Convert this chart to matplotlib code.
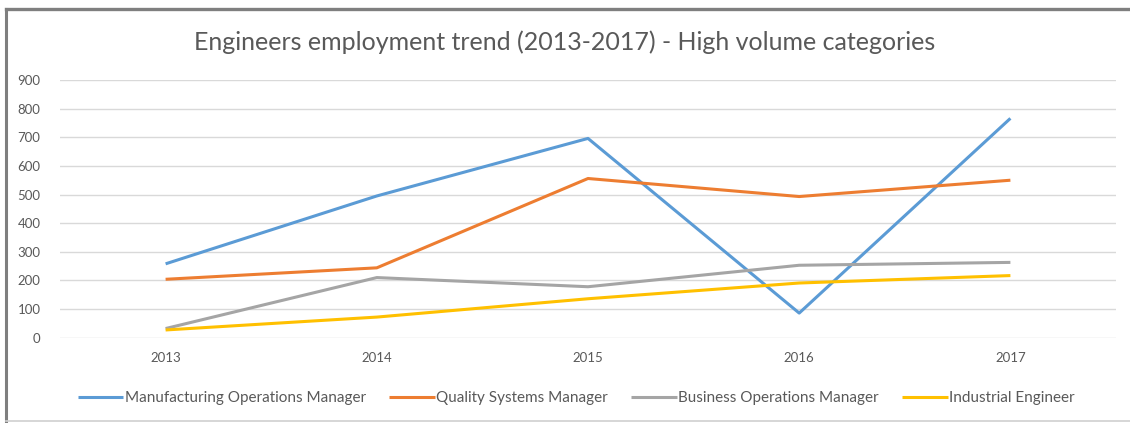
import matplotlib.pyplot as plt
from matplotlib.lines import Line2D

years = ["2013", "2014", "2015", "2016", "2017"]
series_names = [
    "Manufacturing Operations Manager",
    "Quality Systems Manager",
    "Business Operations Manager",
    "Industrial Engineer",
]
manufacturing_ops = [258, 495, 696, 86, 766]
quality_systems = [204, 244, 556, 493, 550]
business_ops = [32, 210, 178, 253, 263]
industrial_eng = [27, 72, 136, 191, 217]
series_colors = ["#5b9bd5", "#ed7d31", "#a5a5a5", "#ffc000"]

plt.rcParams['font.family'] = ['Lato', 'DejaVu Sans']

fig = plt.figure(figsize=(11.3, 4.23), dpi=100)
ax = fig.add_axes([60 / 1130, (423 - 337.7) / 423, 1056 / 1130, (337.7 - 80) / 423])

x = range(len(years))
all_series = [manufacturing_ops, quality_systems, business_ops, industrial_eng]
for name, vals, col in zip(series_names, all_series, series_colors):
    ax.plot(x, vals, color=col, linewidth=2.2, label=name, solid_capstyle='butt')

ax.set_xlim(-0.5, len(years) - 0.5)
ax.set_ylim(0, 900)
ax.set_yticks(range(0, 901, 100))
ax.set_xticks(list(x))
ax.set_xticklabels(years)
ax.grid(axis='y', color='#d9d9d9', linewidth=1)
ax.set_axisbelow(True)
for s in ax.spines.values():
    s.set_visible(False)
ax.tick_params(length=0, colors='#595959', labelsize=9.5)
ax.tick_params(axis='y', pad=14)
ax.tick_params(axis='x', pad=10)

fig.text(0.5, (423 - 42) / 423, "Engineers employment trend (2013-2017) - High volume categories",
         ha='center', va='center', fontsize=18, color='#595959')

fig.legend(loc='center', bbox_to_anchor=(0.51, (423 - 398) / 423), ncol=4, frameon=False,
           fontsize=11, handlelength=3.0, handletextpad=0.1, columnspacing=1.5,
           labelcolor='#595959')

# chart frame: top, left and bottom edges
left, top, bottom = 6 / 1130, (423 - 9) / 423, (423 - 421) / 423
fig.add_artist(Line2D([left, 1], [top, top], transform=fig.transFigure,
                      color='#7f7f7f', linewidth=2.4))
fig.add_artist(Line2D([left, left], [bottom, top], transform=fig.transFigure,
                      color='#7f7f7f', linewidth=2.2))
fig.add_artist(Line2D([left, 1], [bottom, bottom], transform=fig.transFigure,
                      color='#d0d0d0', linewidth=1.2))

fig.savefig("out.png", dpi=100)
